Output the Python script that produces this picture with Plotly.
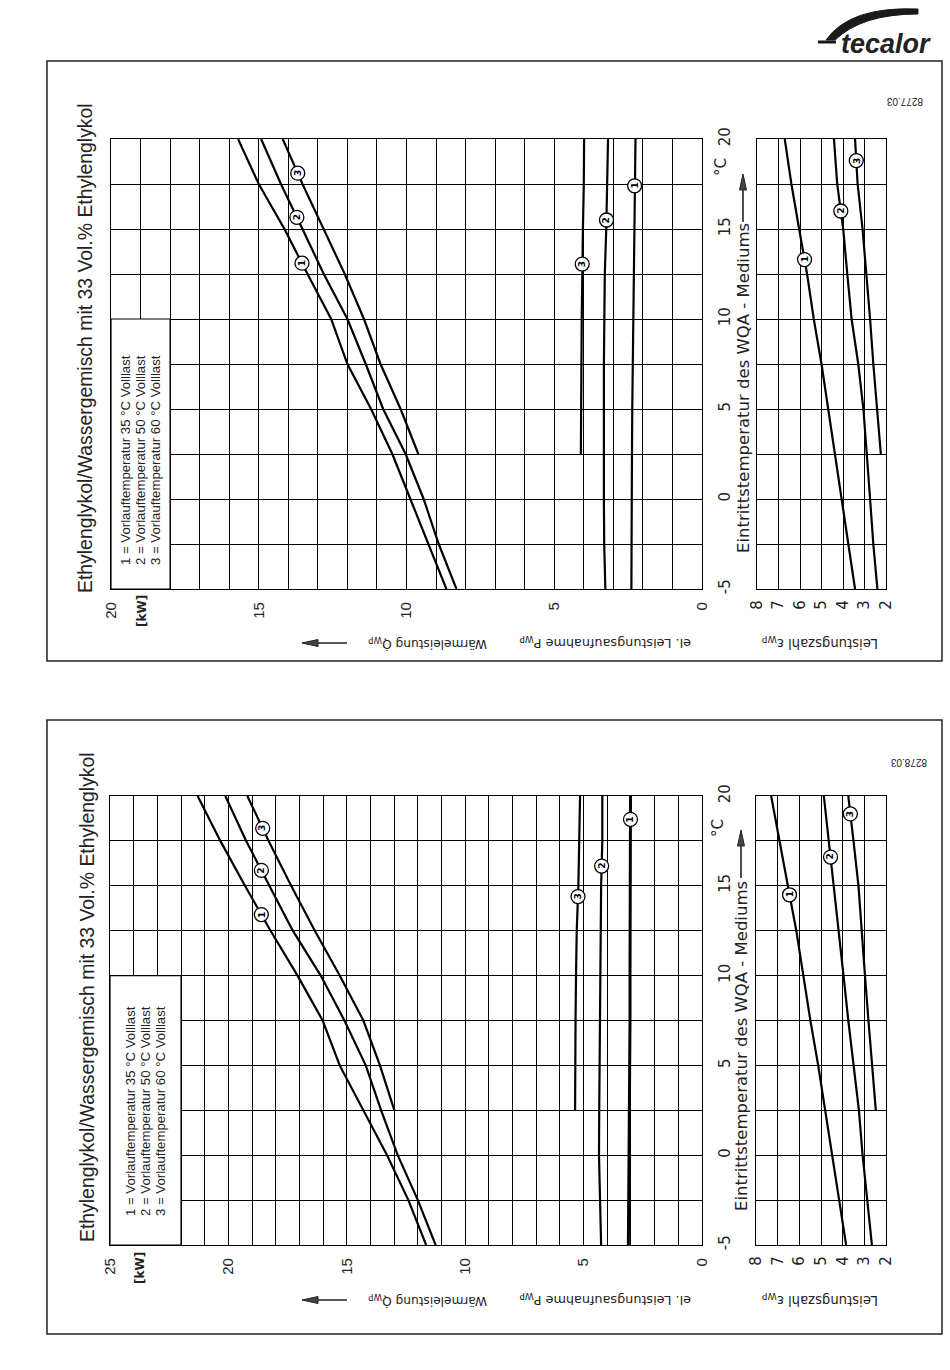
import numpy as np
import plotly.graph_objects as go

W, H = 950, 1370

# ---------------- data ----------------
T = [-5, -2.5, 0, 2.5, 5, 7.5, 10, 12.5, 15, 17.5, 20]
T3 = [2.5, 5, 7.5, 10, 12.5, 15, 17.5, 20]

# upper diagram (kW / COP)
top_q1 = [8.65, 9.25, 9.87, 10.48, 11.2, 12.0, 12.55, 13.35, 14.13, 15.0, 15.7]
top_q2 = [8.31, 8.91, 9.42, 10.03, 10.79, 11.38, 12.0, 12.8, 13.52, 14.25, 14.92]
top_q3 = [9.6, 10.2, 10.88, 11.44, 12.09, 12.8, 13.52, 14.19]
top_p1 = [2.39, 2.39, 2.39, 2.37, 2.36, 2.34, 2.33, 2.3, 2.29, 2.28, 2.25]
top_p2 = [3.27, 3.31, 3.32, 3.33, 3.32, 3.32, 3.31, 3.29, 3.24, 3.2, 3.18]
top_p3 = [4.1, 4.1, 4.08, 4.07, 4.06, 4.03, 4.0, 3.99]
top_cop1 = [3.44, 3.75, 4.07, 4.38, 4.69, 5.0, 5.36, 5.67, 6.04, 6.4, 6.71]
top_cop2 = [2.4, 2.59, 2.74, 2.9, 3.05, 3.29, 3.6, 3.8, 3.99, 4.27, 4.42]
top_cop3 = [2.24, 2.43, 2.59, 2.74, 2.93, 3.09, 3.32, 3.44]

# lower diagram
bot_q1 = [11.65, 12.4, 13.3, 14.3, 15.3, 16.02, 17.08, 18.22, 19.3, 20.34, 21.3]
bot_q2 = [11.25, 12.0, 12.85, 13.55, 14.2, 15.1, 16.1, 17.28, 18.27, 19.25, 20.13]
bot_q3 = [12.99, 13.6, 14.3, 15.3, 16.35, 17.35, 18.3, 19.2]
bot_p1 = [3.11, 3.09, 3.07, 3.06, 3.05, 3.04, 3.04, 3.03, 3.03, 3.02, 3.02]
bot_p2 = [4.26, 4.31, 4.35, 4.34, 4.33, 4.32, 4.31, 4.28, 4.26, 4.21, 4.21]
bot_p3 = [5.36, 5.36, 5.34, 5.32, 5.29, 5.22, 5.18, 5.15]
bot_cop1 = [3.84, 4.16, 4.47, 4.82, 5.13, 5.49, 5.83, 6.14, 6.53, 6.91, 7.3]
bot_cop2 = [2.65, 2.86, 3.08, 3.25, 3.5, 3.74, 3.96, 4.18, 4.42, 4.64, 4.87]
bot_cop3 = [2.47, 2.65, 2.81, 2.97, 3.12, 3.27, 3.5, 3.74]

# temperature positions of the circled curve numbers
top_q_lab = [13.1, 15.65, 18.1]
top_p_lab = [17.4, 15.5, 13.05]
top_cop_lab = [13.3, 16.0, 18.8]
bot_q_lab = [13.4, 15.86, 18.2]
bot_p_lab = [18.7, 16.1, 14.4]
bot_cop_lab = [14.5, 16.6, 19.0]

# tick labels
kw_top_ticks = [0, 5, 10, 15, 20]
kw_bot_ticks = [0, 5, 10, 15, 20, 25]
t_ticks = [-5, 0, 5, 10, 15, 20]
t_tick_text = ["-5", "0", "5", "10", "15", "20"]
cop_ticks = [2, 3, 4, 5, 6, 7, 8]

title_text = "Ethylenglykol/Wassergemisch mit 33 Vol.% Ethylenglykol"
legend_lines = ["1 = Vorlauftemperatur 35 °C Volllast",
                "2 = Vorlauftemperatur 50 °C Volllast",
                "3 = Vorlauftemperatur 60 °C Volllast"]
x_title = "Eintrittstemperatur des WQA - Mediums"


def px(x):
    return x / W


def py(y):
    return 1 - y / H


fig = go.Figure()


def add_curve(xvals, yvals, xa, ya, width=2.2):
    fig.add_trace(go.Scatter(x=xvals, y=yvals, mode="lines",
                             line=dict(color="black", width=width),
                             xaxis=xa, yaxis=ya, showlegend=False,
                             hoverinfo="skip"))


def add_labels(curves, lab_t, xa, ya):
    xs, ys = [], []
    for (cx, ct), t in zip(curves, lab_t):
        xs.append(float(np.interp(t, ct, cx)))
        ys.append(t)
    fig.add_trace(go.Scatter(x=xs, y=ys, mode="markers",
                             marker=dict(symbol="circle", size=14, color="white",
                                         line=dict(color="black", width=1.3)),
                             xaxis=xa, yaxis=ya, showlegend=False, hoverinfo="skip"))
    for i, (xv, yv) in enumerate(zip(xs, ys)):
        fig.add_annotation(x=xv, y=yv, xref=xa, yref=ya, text="<b>%d</b>" % (i + 1),
                           textangle=-90, showarrow=False,
                           font=dict(family="DejaVu Sans", size=9, color="black"))


# ---- upper diagram traces
add_curve(top_q1, T, "x", "y")
add_curve(top_q2, T, "x", "y")
add_curve(top_q3, T3, "x", "y")
add_curve(top_p1, T, "x", "y")
add_curve(top_p2, T, "x", "y")
add_curve(top_p3, T3, "x", "y")
add_curve(top_cop1, T, "x2", "y2")
add_curve(top_cop2, T, "x2", "y2")
add_curve(top_cop3, T3, "x2", "y2")
add_labels([(top_q1, T), (top_q2, T), (top_q3, T3)], top_q_lab, "x", "y")
add_labels([(top_p1, T), (top_p2, T), (top_p3, T3)], top_p_lab, "x", "y")
add_labels([(top_cop1, T), (top_cop2, T), (top_cop3, T3)], top_cop_lab, "x2", "y2")

# ---- lower diagram traces
add_curve(bot_q1, T, "x3", "y3")
add_curve(bot_q2, T, "x3", "y3")
add_curve(bot_q3, T3, "x3", "y3")
add_curve(bot_p1, T, "x3", "y3", width=3)
add_curve(bot_p2, T, "x3", "y3")
add_curve(bot_p3, T3, "x3", "y3")
add_curve(bot_cop1, T, "x4", "y4")
add_curve(bot_cop2, T, "x4", "y4")
add_curve(bot_cop3, T3, "x4", "y4")
add_labels([(bot_q1, T), (bot_q2, T), (bot_q3, T3)], bot_q_lab, "x3", "y3")
add_labels([(bot_p1, T), (bot_p2, T), (bot_p3, T3)], bot_p_lab, "x3", "y3")
add_labels([(bot_cop1, T), (bot_cop2, T), (bot_cop3, T3)], bot_cop_lab, "x4", "y4")

# ---------------- axes ----------------
GRID = dict(showgrid=True, gridcolor="black", gridwidth=1, zeroline=False,
            showline=True, mirror=True, linecolor="black", linewidth=1.2, ticks="",
            automargin=False)


def kw_axis(x0, x1, vmax, ticks, anchor):
    return dict(domain=[px(x0), px(x1)], range=[vmax, 0], anchor=anchor,
                tickmode="array", tickvals=ticks,
                minor=dict(tickmode="linear", tick0=0, dtick=1, showgrid=True,
                           gridcolor="black", gridwidth=1, ticks=""),
                tickangle=-90, ticklabelstandoff=6,
                tickfont=dict(family="Liberation Sans", size=15, color="#222"), **GRID)


def t_axis(y0, y1, anchor, labels):
    d = dict(domain=[py(y1), py(y0)], range=[-5, 20], anchor=anchor,
             tickmode="array", tickvals=t_ticks,
             minor=dict(tickmode="linear", tick0=0, dtick=2.5, showgrid=True,
                        gridcolor="black", gridwidth=1, ticks=""), **GRID)
    if labels:
        d.update(ticktext=t_tick_text, side="right", tickangle=-90, ticklabelstandoff=9,
                 tickfont=dict(family="DejaVu Sans", size=15, color="#222"))
    else:
        d.update(showticklabels=False)
    return d


def cop_axis(x0, x1, anchor):
    return dict(domain=[px(x0), px(x1)], range=[8, 2], anchor=anchor,
                tickmode="array", tickvals=cop_ticks, tickangle=-90, ticklabelstandoff=4,
                tickfont=dict(family="DejaVu Sans", size=15, color="#222"), **GRID)


fig.update_layout(
    width=W, height=H, margin=dict(l=0, r=0, t=0, b=0, pad=0), autosize=False,
    paper_bgcolor="white", plot_bgcolor="white", showlegend=False,
    xaxis=kw_axis(111, 702, 20, kw_top_ticks, "y"),
    yaxis=t_axis(139, 589, "x", True),
    xaxis2=cop_axis(757, 886, "y2"),
    yaxis2=t_axis(139, 589, "x2", False),
    xaxis3=kw_axis(110, 702, 25, kw_bot_ticks, "y3"),
    yaxis3=t_axis(796, 1245, "x3", True),
    xaxis4=cop_axis(756, 886, "y4"),
    yaxis4=t_axis(796, 1245, "x4", False),
)

# ---------------- shapes ----------------
shapes = []
for (x0, y0, x1, y1) in [(47, 61, 942, 661), (47, 720, 942, 1334)]:
    shapes.append(dict(type="rect", xref="paper", yref="paper",
                       x0=px(x0), x1=px(x1), y0=py(y1), y1=py(y0),
                       line=dict(color="#222", width=1.5), fillcolor="rgba(0,0,0,0)"))
# legend boxes (no grid inside)
shapes.append(dict(type="rect", xref="x", yref="y", x0=20, x1=18, y0=-5, y1=10,
                   fillcolor="white", line=dict(color="black", width=1.2), layer="above"))
shapes.append(dict(type="rect", xref="x3", yref="y3", x0=25, x1=22, y0=-5, y1=10,
                   fillcolor="white", line=dict(color="black", width=1.2), layer="above"))


def P(x, y):
    return "%.5f,%.5f" % (px(x), py(y))


def arrow_shapes(x_tail, y_tail, x_head, y_head):
    out = []
    if y_tail == y_head:  # horizontal, head on the left
        out.append(dict(type="line", xref="paper", yref="paper",
                        x0=px(x_tail), x1=px(x_head + 12), y0=py(y_tail), y1=py(y_head),
                        line=dict(color="#222", width=1.6)))
        path = "M " + P(x_head, y_head) + " L " + P(x_head + 16, y_head - 3.5) + \
               " L " + P(x_head + 16, y_head + 3.5) + " Z"
    else:  # vertical, head on top
        out.append(dict(type="line", xref="paper", yref="paper",
                        x0=px(x_tail), x1=px(x_head), y0=py(y_tail), y1=py(y_head + 12),
                        line=dict(color="#222", width=1.6)))
        path = "M " + P(x_head, y_head) + " L " + P(x_head - 3.5, y_head + 16) + \
               " L " + P(x_head + 3.5, y_head + 16) + " Z"
    out.append(dict(type="path", xref="paper", yref="paper", path=path,
                    fillcolor="#444", line=dict(color="#222", width=1)))
    return out


swoosh = ("M " + P(826, 40) + " Q " + P(850, 6) + " " + P(918, 9) +
          " L " + P(918, 14) + " Q " + P(862, 14) + " " + P(835, 40) + " Z")
shapes.append(dict(type="path", xref="paper", yref="paper", path=swoosh,
                   fillcolor="#1a1a1a", line=dict(color="#1a1a1a", width=1)))
shapes.append(dict(type="line", xref="paper", yref="paper",
                   x0=px(818), x1=px(836), y0=py(42), y1=py(42),
                   line=dict(color="#1a1a1a", width=3)))


# ---------------- annotations ----------------
def ann(x, y, text, size, angle=-90, family="Liberation Sans", **kw):
    fig.add_annotation(x=px(x), y=py(y), xref="paper", yref="paper", text=text,
                       textangle=angle, showarrow=False, xanchor="center", yanchor="middle",
                       font=dict(family=family, size=size, color="#222"), **kw)


panels = [
    dict(xt=85, yt=348, lx=125, yleg=460, xkw=142, ykw=611, xdeg=721, ydeg=167,
         xx=743, yxt=388, yarr=174, ylab=643, xid=905, yid=101, pid="8277.03"),
    dict(xt=87, yt=997, lx=130, yleg=1111, xkw=140, ykw=1268, xdeg=718, ydeg=828,
         xx=741, yxt=1046, yarr=830, ylab=1300, xid=909, yid=763, pid="8278.03"),
]
for p in panels:
    ann(p["xt"], p["yt"], title_text, 19.4)
    for i, line in enumerate(legend_lines):
        ann(p["lx"] + 15 * i, p["yleg"], line, 13.2)
    ann(p["xkw"], p["ykw"], "<b>[kW]</b>", 12, family="DejaVu Sans")
    ann(p["xdeg"], p["ydeg"], "°C", 15, family="DejaVu Sans")
    ann(p["xx"], p["yxt"], x_title, 16.5, family="DejaVu Sans")
    shapes += arrow_shapes(p["xx"], p["yarr"] + 48, p["xx"], p["yarr"])
    ann(428, p["ylab"], "Wärmeleistung Q̇<sub>WP</sub>", 12.2, angle=180, family="DejaVu Sans")
    shapes += arrow_shapes(347, p["ylab"], 302, p["ylab"])
    ann(605, p["ylab"], "el. Leistungsaufnahme P<sub>WP</sub>", 12.8, angle=180, family="DejaVu Sans")
    ann(820, p["ylab"], "Leistungszahl ε<sub>WP</sub>", 13.2, angle=180, family="DejaVu Sans")
    ann(p["xid"], p["yid"], p["pid"], 10, angle=180)

ann(886, 44, "<b><i>tecalor</i></b>", 27, angle=0)
fig.update_layout(shapes=shapes)

fig.write_html(
    "out.html",
    config={"displayModeBar": False},
    post_script=("var d=document.getElementById('{plot_id}');"
                 "d.style.position='fixed';d.style.left='0px';d.style.top='0px';"
                 "document.body.style.margin='0';"
                 "document.documentElement.style.overflow='hidden';"),
)
